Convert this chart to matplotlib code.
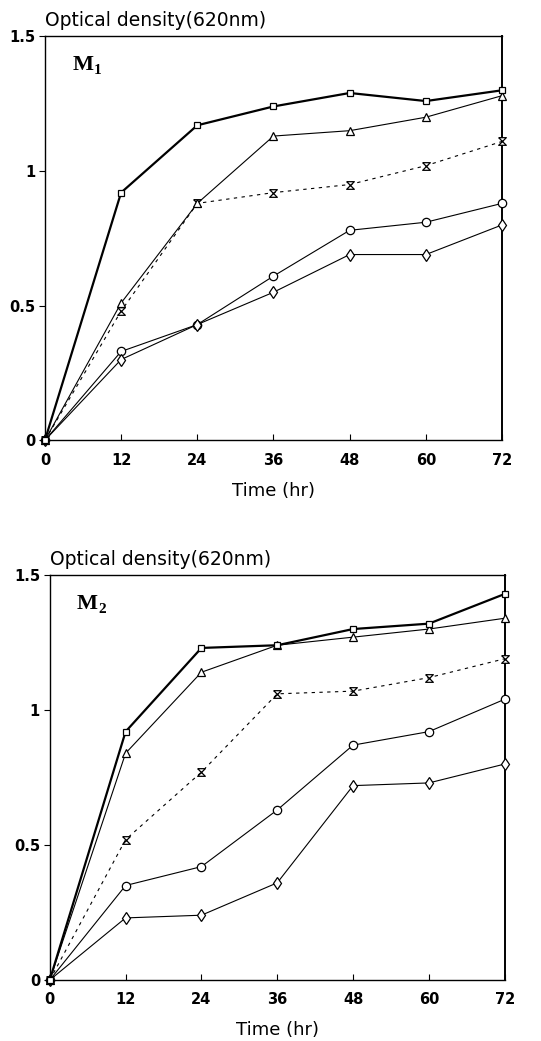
import numpy as np
import matplotlib.pyplot as plt

# Zeitpunkte
hours = [0, 12, 24, 36, 48, 60, 72]

# Panel M1
m1_square = [0, 0.92, 1.17, 1.24, 1.29, 1.26, 1.30]
m1_triangle = [0, 0.51, 0.88, 1.13, 1.15, 1.20, 1.28]
m1_hourglass = [0, 0.48, 0.88, 0.92, 0.95, 1.02, 1.11]
m1_circle = [0, 0.33, 0.43, 0.61, 0.78, 0.81, 0.88]
m1_diamond = [0, 0.30, 0.43, 0.55, 0.69, 0.69, 0.80]

# Panel M2
m2_square = [0, 0.92, 1.23, 1.24, 1.30, 1.32, 1.43]
m2_triangle = [0, 0.84, 1.14, 1.24, 1.27, 1.30, 1.34]
m2_hourglass = [0, 0.52, 0.77, 1.06, 1.07, 1.12, 1.19]
m2_circle = [0, 0.35, 0.42, 0.63, 0.87, 0.92, 1.04]
m2_diamond = [0, 0.23, 0.24, 0.36, 0.72, 0.73, 0.80]

y_ticks = [0, 0.5, 1, 1.5]
y_labels = ['0', '0.5', '1', '1.5']

hourglass = [(-1, 1), (1, 1), (-1, -1), (1, -1), (-1, 1)]

fig = plt.figure(figsize=(5.41, 10.41), dpi=100)
ax1 = fig.add_axes([0.083, 0.577, 0.845, 0.388])
ax2 = fig.add_axes([0.092, 0.0586, 0.841, 0.389])


def draw_panel(ax, sq, tri, hg, circ, dia, label, sub):
    kw = dict(color='black', mfc='white', mec='black', mew=0.9, clip_on=False)
    ax.plot(hours, circ, marker='o', ms=6, lw=0.8, zorder=3, **kw)
    ax.plot(hours, dia, marker='d', ms=6, lw=0.8, zorder=3, **kw)
    ax.plot(hours, hg, marker=hourglass, ms=5.5, lw=0.8, ls=(0, (3, 4)), zorder=3, **kw)
    ax.plot(hours, tri, marker='^', ms=5.5, lw=0.8, zorder=4, **kw)
    ax.plot(hours, sq, marker='s', ms=5, lw=1.6, zorder=5, **kw)

    ax.set_xlim(0, 72)
    ax.set_ylim(0, 1.5)
    ax.set_xticks(hours)
    ax.set_xticklabels([str(h) for h in hours], fontsize=10.5, fontweight='bold')
    ax.set_yticks(y_ticks)
    ax.set_yticklabels(y_labels, fontsize=10.5, fontweight='bold')
    ax.tick_params(axis='x', direction='in', length=4, width=0.8, pad=9)
    ax.tick_params(axis='y', direction='out', length=4, width=0.8, pad=3)
    for sp in ax.spines.values():
        sp.set_linewidth(1.0)
    ax.spines['right'].set_linewidth(1.4)
    ax.set_xlabel('Time (hr)', fontsize=13, labelpad=10)
    ax.text(0.0, 1.015, 'Optical density(620nm)', transform=ax.transAxes,
            fontsize=13.5, ha='left', va='bottom')
    ax.text(0.06, 0.905, label, transform=ax.transAxes, fontsize=16,
            fontweight='bold', family='Liberation Serif', ha='left', va='bottom')
    ax.text(0.107, 0.9, sub, transform=ax.transAxes, fontsize=11,
            fontweight='bold', family='Liberation Serif', ha='left', va='bottom')


draw_panel(ax1, m1_square, m1_triangle, m1_hourglass, m1_circle, m1_diamond, 'M', '1')
draw_panel(ax2, m2_square, m2_triangle, m2_hourglass, m2_circle, m2_diamond, 'M', '2')

fig.savefig('out.png', dpi=100)
